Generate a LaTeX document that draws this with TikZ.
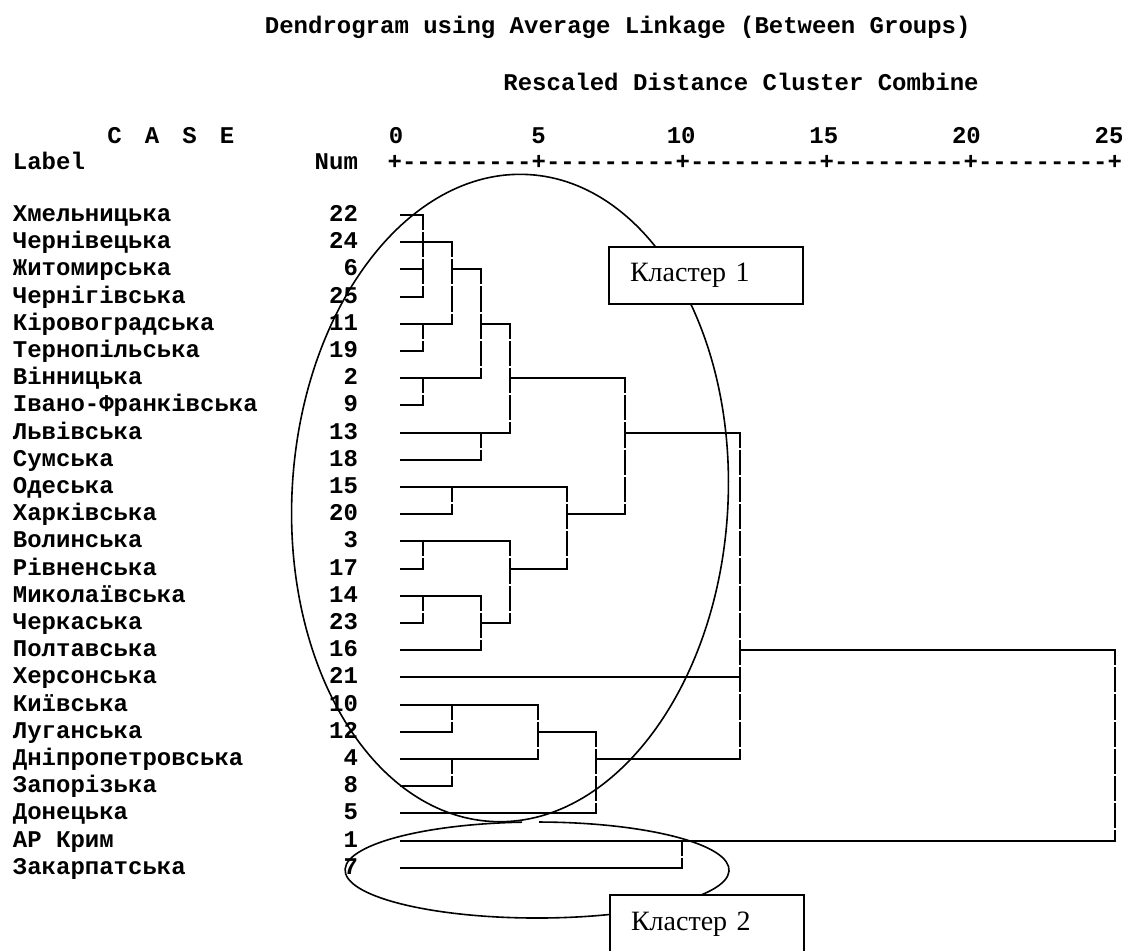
\documentclass[tikz,border=0pt]{standalone}
\usepackage{fontspec}
\setmainfont{Liberation Serif}
\setmonofont{Liberation Mono}

\begin{document}
\begin{tikzpicture}[
  x=0.5pt, y=-0.5pt,
  spss/.style={font=\ttfamily\bfseries\fontsize{12}{14}\selectfont, inner sep=0pt},
  lab/.style={spss, anchor=base west},
  num/.style={spss, anchor=base east},
  tick/.style={spss, anchor=base},
  link/.style={line width=1pt, line cap=rect},
  vlink/.style={line width=1pt, dash pattern=on 12.6pt off 1pt, dash phase=5.1pt},
  ring/.style={line width=0.8pt},
  tag/.style={draw, line width=1pt, fill=white, anchor=north west, font=\fontsize{14}{16}\selectfont,
              text width=76pt, inner xsep=10.35pt, inner ysep=0pt, minimum height=28.5pt, align=left},
]
\fill[white] (0,0) rectangle (1122,950);
\useasboundingbox (0,0) rectangle (1122,950);

% ---------- header ----------
\node[lab] (title) at (264.5,33.5) {Dendrogram using Average Linkage (Between Groups)};
\node[lab] (subtitle) at (503,90.5) {Rescaled Distance Cluster Combine};
\node[lab] (casehd) at (107,143.5) {C\kern11.55pt A\kern11.55pt S\kern11.55pt E};
\foreach \v [count=\j from 0] in {0,5,10,15,20,25}
  \node[tick] (t\j) at ({396+142.6*\j},143.5) {\v};
\node[lab] (labelhd) at (12.5,169.5) {Label};
\node[num] (numhd) at (358.3,169.5) {Num};
\node[lab] (axis) at (387.2,169.5) {+---------+---------+---------+---------+---------+};

% ---------- case labels and numbers ----------
\foreach \lbl/\nr [count=\i from 0] in {Хмельницька/22, Чернівецька/24, Житомирська/6,
    Чернігівська/25, Кіровоградська/11, Тернопільська/19, Вінницька/2,
    Івано-Франківська/9, Львівська/13, Сумська/18, Одеська/15, Харківська/20,
    Волинська/3, Рівненська/17, Миколаївська/14, Черкаська/23, Полтавська/16,
    Херсонська/21, Київська/10, Луганська/12, Дніпропетровська/4, Запорізька/8,
    Донецька/5, АР Крим/1, Закарпатська/7}{
  \pgfmathsetmacro{\yy}{215+27.2*\i+6.5}
  \node[lab] (l\i) at (12.5,\yy) {\lbl};
  \node[num] (n\i) at (358.3,\yy) {\nr};
}

% ---------- tree: horizontal runs (row / from / to, in 2-column steps) ----------
\foreach \r/\a/\b in {0/-0.75/0, 1/-0.75/1, 2/-0.75/0, 2/1/2, 3/-0.75/0, 4/-0.75/1, 4/2/3,
    5/-0.75/0, 6/-0.75/2, 6/3/7, 7/-0.75/0, 8/-0.75/3, 8/7/11, 9/-0.75/2, 10/-0.75/5,
    11/-0.75/1, 11/5/7, 12/-0.75/3, 13/-0.75/0, 13/3/5, 14/-0.75/2, 15/-0.75/0, 15/2/3,
    16/-0.75/2, 16/11/24, 17/-0.75/11, 18/-0.75/4, 19/-0.75/1, 19/4/6, 20/-0.75/4,
    20/6/11, 21/-0.75/1, 22/-0.75/6, 23/-0.75/24, 24/-0.75/9}
  \draw[link] ({423.1+28.82*\a},{215+27.2*\r}) -- ({423.1+28.82*\b},{215+27.2*\r});

% ---------- tree: vertical joins (column / top row / bottom row) ----------
\foreach \k/\a/\b in {0/0/3, 0/4/5, 0/6/7, 0/12/13, 0/14/15, 1/1/4, 1/10/11, 1/18/19,
    1/20/21, 2/2/6, 2/8/9, 2/14/16, 3/4/8, 3/12/15, 4/18/20, 5/10/13, 6/19/22, 7/6/11,
    9/23/24, 11/8/20, 24/16/23}
  \draw[vlink] ({423.1+28.82*\k},{215+27.2*\a}) -- ({423.1+28.82*\k},{215+27.2*\b});

% ---------- cluster outlines ----------
\draw[ring, rotate around={-3.3:(510,498)}] (510,498) ellipse [x radius=109pt, y radius=162pt];
\draw[ring] (522,822.15) arc[start angle=94.5, end angle=449.4, x radius=96pt, y radius=24pt];

\node[tag] (cl1) at (608.3,245.7) {Кластер 1};
\node[tag] (cl2) at (609.3,894.3) {Кластер 2};

\end{tikzpicture}
\end{document}
